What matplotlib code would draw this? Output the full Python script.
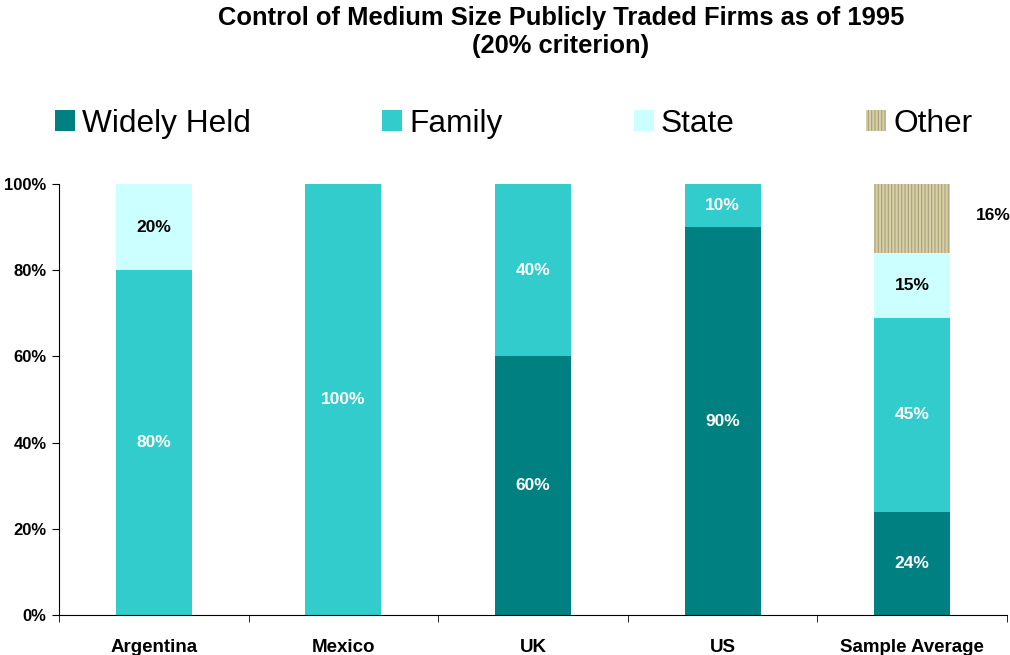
import numpy as np
import matplotlib.pyplot as plt
from matplotlib.patches import Patch

countries = ["Argentina", "Mexico", "UK", "US", "Sample Average"]
widely_held = [0, 0, 60, 90, 24]
family = [80, 100, 40, 10, 45]
state = [20, 0, 0, 0, 15]
other = [0, 0, 0, 0, 16]

c_wide = "#008080"
c_fam = "#33CCCC"
c_state = "#CCFFFF"
c_other = "#D6D0A6"

plt.rcParams['font.family'] = ['Liberation Sans', 'DejaVu Sans']
plt.rcParams['hatch.color'] = '#A8A07C'
plt.rcParams['hatch.linewidth'] = 0.8

fig = plt.figure(figsize=(10.1, 6.55), dpi=100)
ax = fig.add_axes([59 / 1010, 40 / 655, 948 / 1010, 431 / 655])

x = np.arange(len(countries))
w = 0.4
wh = np.array(widely_held) / 100
fa = np.array(family) / 100
st = np.array(state) / 100
ot = np.array(other) / 100

ax.bar(x, wh, w, color=c_wide)
ax.bar(x, fa, w, bottom=wh, color=c_fam)
ax.bar(x, st, w, bottom=wh + fa, color=c_state)
ax.bar(x, ot, w, bottom=wh + fa + st, color=c_other, hatch='|||||', linewidth=0)

def label(vals, bottoms, color):
    for i, (v, b) in enumerate(zip(vals, bottoms)):
        if v > 0:
            ax.text(i, b + v / 2, f"{int(round(v * 100))}%", ha='center', va='center',
                    color=color, fontsize=12.5, fontweight='bold')

label(wh, np.zeros(5), 'white')
label(fa, wh, 'white')
label(st, wh + fa, 'black')
for i, v in enumerate(ot):
    if v > 0:
        ax.text(i + 0.427, 0.928, f"{int(round(v * 100))}%", ha='center', va='center',
                color='black', fontsize=12.5, fontweight='bold')

ax.set_xlim(-0.5, len(countries) - 0.5)
ax.set_ylim(0, 1)
ax.set_yticks(np.arange(0, 1.01, 0.2))
ax.set_yticklabels([f"{int(t * 100)}%" for t in np.arange(0, 1.01, 0.2)],
                   fontsize=12, fontweight='bold')
ax.set_xticks(x)
ax.set_xticklabels(countries, fontsize=13.5, fontweight='bold')
ax.tick_params(axis='x', length=0, pad=17)
ax.set_xticks(np.arange(-0.5, len(countries), 1), minor=True)
ax.tick_params(axis='x', which='minor', length=5, direction='out')
ax.tick_params(axis='y', length=5, direction='out', pad=4)
ax.spines['top'].set_visible(False)
ax.spines['right'].set_visible(False)

fig.text(561 / 1010, 1 - 18 / 655, "Control of Medium Size Publicly Traded Firms as of 1995",
         ha='center', va='center', fontsize=18.4, fontweight='bold')
fig.text(561 / 1010, 1 - 46 / 655, "(20% criterion)", ha='center', va='center',
         fontsize=18.4, fontweight='bold')

handles = [Patch(facecolor=c_wide), Patch(facecolor=c_fam), Patch(facecolor=c_state),
           Patch(facecolor=c_other, hatch='|||||', linewidth=0)]
fig.legend(handles, ["Widely Held", "Family", "State", "Other"], loc='center left',
           bbox_to_anchor=(55 / 1010, 1 - 124 / 655), ncol=4, frameon=False, fontsize=22.8,
           borderpad=0, borderaxespad=0,
           handlelength=0.63, handleheight=0.63, handletextpad=0.22, columnspacing=4.15)

fig.savefig("out.png", dpi=100)
